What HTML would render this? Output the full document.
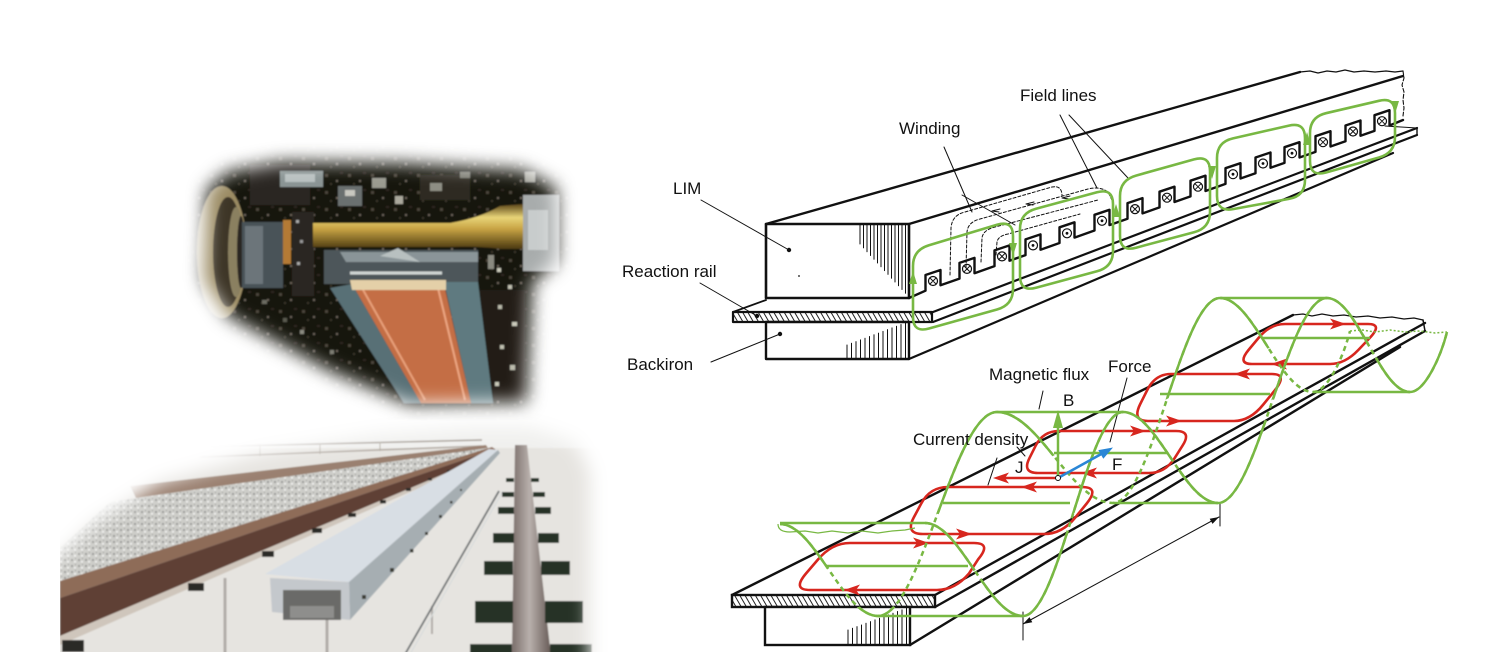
<!DOCTYPE html>
<html><head><meta charset="utf-8"><style>
html,body{margin:0;padding:0;background:#fff;}
body{width:1498px;height:668px;overflow:hidden;}
svg{display:block;}
text{font-family:"Liberation Sans",Arial,sans-serif;font-size:17px;fill:#111;}
</style></head><body>
<svg width="1498" height="668" viewBox="0 0 1498 668" xmlns="http://www.w3.org/2000/svg">
<defs>
<filter id="mb" x="-20%" y="-20%" width="140%" height="140%"><feGaussianBlur stdDeviation="9"/></filter>
<filter id="sb" x="-5%" y="-5%" width="110%" height="110%"><feGaussianBlur stdDeviation="0.8"/></filter>
<mask id="mTop" maskUnits="userSpaceOnUse" x="0" y="0" width="700" height="668">
<polygon points="207,190 228,172 282,162 400,163 522,170 556,188 556,262 532,282 526,402 410,404 332,372 228,316 204,280" fill="#fff" filter="url(#mb)"/>
</mask>
<mask id="mBot" maskUnits="userSpaceOnUse" x="0" y="0" width="700" height="668">
<polygon points="30,720 30,585 95,522 160,482 260,454 380,434 470,427 530,427 575,442 590,472 590,720" fill="#fff" filter="url(#mb)"/>
</mask>
<clipPath id="cBot"><rect x="60" y="400" width="560" height="252"/></clipPath>
<pattern id="hatch" width="4.5" height="10" patternUnits="userSpaceOnUse" patternTransform="rotate(-30)">
<rect width="4.5" height="10" fill="#fff"/><line x1="1" y1="0" x2="1" y2="10" stroke="#222" stroke-width="1"/>
</pattern>
<pattern id="bal" width="7" height="6" patternUnits="userSpaceOnUse">
<rect width="7" height="6" fill="#cdcdc9"/><rect x="1" y="1" width="2" height="2" fill="#9a9a96"/><rect x="4" y="3" width="2" height="1.5" fill="#f4f4f2"/><rect x="5" y="0" width="1" height="1" fill="#8a8a86"/>
</pattern>
<pattern id="spk" width="23" height="17" patternUnits="userSpaceOnUse">
<rect width="23" height="17" fill="#17120e"/><rect x="3" y="4" width="3" height="3" fill="#4a4238"/><rect x="14" y="10" width="2" height="2" fill="#6a6258"/><rect x="18" y="2" width="3" height="2" fill="#2e2820"/><rect x="8" y="13" width="2" height="2" fill="#3a342a"/>
</pattern>
<linearGradient id="brass" x1="0" y1="0" x2="0" y2="1">
<stop offset="0" stop-color="#5a4418"/><stop offset="0.3" stop-color="#e8d478"/><stop offset="0.55" stop-color="#c8a444"/><stop offset="1" stop-color="#4a3810"/>
</linearGradient>
<linearGradient id="rrail" x1="0" y1="0" x2="1" y2="0">
<stop offset="0" stop-color="#7a6e6a"/><stop offset="0.45" stop-color="#b8b0ac"/><stop offset="1" stop-color="#665a56"/>
</linearGradient>
<clipPath id="cL">
<polygon points="700,632.5 1500,232.5 1500,0 700,0"/>
<polygon points="700,607 935,607 1425,331 1500,289 1500,700 700,700"/>
</clipPath>
<clipPath id="cR">
<polygon points="700,728 1500,269 1500,0 700,0"/>
<polygon points="700,607 935,607 1425,331 1500,289 1500,700 700,700"/>
</clipPath>
</defs>

<!-- ============ TOP PHOTO ============ -->
<g mask="url(#mTop)">
<g filter="url(#sb)">
<rect x="180" y="140" width="400" height="280" fill="url(#spk)"/>
<rect x="250" y="165" width="60" height="40" fill="#2a2620"/>
<rect x="420" y="175" width="50" height="25" fill="#2e2a24"/>
<rect x="480" y="290" width="45" height="110" fill="#201c18"/>
<!-- wheel -->
<ellipse cx="222" cy="252" rx="25" ry="66" fill="#9a8a62"/>
<ellipse cx="228" cy="252" rx="15" ry="55" fill="#3e3528"/>
<ellipse cx="236" cy="252" rx="8" ry="45" fill="#8a8060"/>
<ellipse cx="241" cy="252" rx="4" ry="36" fill="#2a2620"/>
<!-- hub -->
<rect x="242" y="222" width="41" height="66" fill="#4a5258"/>
<rect x="245" y="226" width="18" height="58" fill="#6c747a"/>
<rect x="283" y="220" width="8" height="44" fill="#b47a34"/>
<rect x="292" y="212" width="22" height="84" fill="#2c2822"/>
<rect x="296" y="220" width="3" height="3" fill="#aaa"/><rect x="300" y="240" width="3" height="3" fill="#999"/><rect x="297" y="262" width="3" height="3" fill="#aaa"/>
<!-- brass tube -->
<path d="M313,223 L450,223 Q480,218 500,206 L524,204 L524,249 L500,249 Q480,246 450,247 L313,247 Z" fill="url(#brass)"/>
<!-- top boxes -->
<rect x="280" y="171" width="43" height="16" fill="#8a9494"/>
<rect x="285" y="174" width="30" height="8" fill="#b8c0c0"/>
<rect x="338" y="186" width="24" height="20" fill="#6a7070"/>
<rect x="345" y="190" width="10" height="6" fill="#c8c8c0"/>
<rect x="372" y="178" width="14" height="10" fill="#9a9a90"/>
<rect x="395" y="196" width="8" height="8" fill="#aaa89c"/>
<rect x="430" y="183" width="12" height="8" fill="#8e8e84"/>
<rect x="460" y="172" width="10" height="6" fill="#7a7a70"/>
<rect x="525" y="172" width="10" height="10" fill="#9a9a90"/>
<!-- LIM slab -->
<polygon points="324,250 478,250 478,284 324,284" fill="#4e565a"/>
<polygon points="340,252 478,252 478,262 346,262" fill="#8a9498"/>
<polygon points="380,256 398,248 420,262" fill="#b8c0c0"/>
<line x1="350" y1="273" x2="442" y2="273" stroke="#d0d6d4" stroke-width="3"/>
<!-- copper plate -->
<polygon points="330,288 352,284 421,403 404,403" fill="#587076"/>
<polygon points="444,282 478,282 493,403 471,403" fill="#5e7a80"/>
<polygon points="352,284 444,284 471,403 421,403" fill="#c46e44"/>
<line x1="362" y1="288" x2="425" y2="400" stroke="#e8a07a" stroke-width="2"/>
<line x1="438" y1="288" x2="465" y2="400" stroke="#eca682" stroke-width="2"/>
<polygon points="350,280 446,280 446,290 352,290" fill="#e4d0a8"/>
<!-- right side -->
<rect x="523" y="195" width="36" height="76" fill="#a8acac"/>
<rect x="528" y="210" width="20" height="40" fill="#c8cccc"/>
<rect x="497" y="268" width="4" height="4" fill="#c8c8b8"/><rect x="508" y="285" width="4" height="4" fill="#c0c0b0"/>
<rect x="498" y="305" width="4" height="4" fill="#b8b8a8"/><rect x="512" y="322" width="5" height="4" fill="#c8c8b8"/>
<rect x="500" y="345" width="4" height="4" fill="#c0c0b0"/><rect x="510" y="365" width="5" height="5" fill="#b8b8a8"/>
<rect x="495" y="382" width="4" height="4" fill="#c8c8b8"/><rect x="488" y="255" width="6" height="14" fill="#8a8a80"/>
<rect x="300" y="330" width="4" height="4" fill="#8a8a80"/><rect x="330" y="350" width="4" height="4" fill="#7a7a70"/>
<rect x="262" y="300" width="5" height="4" fill="#6a6a60"/><rect x="283" y="318" width="4" height="4" fill="#5a5a50"/>
</g>
</g>

<!-- ============ BOTTOM PHOTO ============ -->
<g clip-path="url(#cBot)">
<g mask="url(#mBot)">
<g filter="url(#sb)">
<rect x="40" y="400" width="580" height="270" fill="#e6e4e0"/>
<rect x="40" y="400" width="580" height="48" fill="#f0f0ee"/>
<line x1="190" y1="447" x2="482" y2="440" stroke="#a09890" stroke-width="1.5"/>
<line x1="200" y1="457" x2="482" y2="446" stroke="#b0a8a0" stroke-width="1.5"/>
<line x1="260" y1="444" x2="260" y2="456" stroke="#b0aaa0" stroke-width="1"/>
<line x1="320" y1="443" x2="320" y2="454" stroke="#b0aaa0" stroke-width="1"/>
<line x1="380" y1="442" x2="380" y2="451" stroke="#b0aaa0" stroke-width="1"/>
<polygon points="130,486 486,445 488,448 136,498" fill="#9a8070"/>
<polygon points="110,502 487,448 492,450 60,586 60,548" fill="url(#bal)"/>
<!-- brown rail -->
<polygon points="60,581 492,447 495,449 60,598" fill="#8e6c58"/>
<polygon points="60,598 495,449 496,452 60,636" fill="#5e4034"/>
<polygon points="60,636 496,452 497,454 60,645" fill="#cfc6bc"/>
<rect x="62" y="640" width="22" height="12" fill="#2a2a26"/>
<rect x="188" y="583" width="16" height="8" fill="#2a2c28"/>
<rect x="262" y="551" width="12" height="6" fill="#2a2c28"/>
<rect x="312" y="528" width="10" height="5" fill="#2a2c28"/>
<rect x="348" y="513" width="8" height="4" fill="#2a2c28"/>
<rect x="380" y="500" width="6" height="3.5" fill="#2a2c28"/>
<rect x="406" y="488" width="5" height="3" fill="#2a2c28"/>
<rect x="428" y="478" width="4" height="2.5" fill="#2a2c28"/>
<rect x="447" y="470" width="3" height="2" fill="#2a2c28"/>
<!-- posts -->
<line x1="225" y1="578" x2="225" y2="655" stroke="#b0aca8" stroke-width="3"/>
<line x1="327" y1="620" x2="327" y2="655" stroke="#b0aca8" stroke-width="3"/>
<line x1="432" y1="606" x2="432" y2="634" stroke="#b0aca8" stroke-width="2"/>
<!-- reaction rail -->
<polygon points="265,574 349,582 498,450 489,449" fill="#d8dee4"/>
<polygon points="349,582 498,450 500,453 350,620" fill="#a6aeb2"/>
<polygon points="270,578 349,582 350,620 272,612" fill="#c4c8cc"/>
<rect x="283" y="590" width="58" height="30" fill="#6a6a68"/>
<rect x="290" y="606" width="44" height="12" fill="#8e8e8c"/>
<rect x="362" y="595" width="4" height="4" fill="#3a3a30"/>
<rect x="390" y="568" width="4" height="4" fill="#3a3a30"/>
<rect x="410" y="549" width="3.5" height="3.5" fill="#3a3a30"/>
<rect x="425" y="532" width="3" height="3" fill="#3a3a30"/>
<rect x="439" y="515" width="3" height="3" fill="#3a3a30"/>
<rect x="450" y="501" width="2.5" height="2.5" fill="#3a3a30"/>
<rect x="460" y="489" width="2" height="2" fill="#3a3a30"/>
<!-- cable -->
<line x1="499" y1="491" x2="404" y2="656" stroke="#6a6e70" stroke-width="1.8"/>
<line x1="503" y1="491" x2="409" y2="656" stroke="#d8dcdc" stroke-width="1.2"/>
<!-- right rail -->
<polygon points="515,445 527,445 551,656 512,656" fill="url(#rrail)"/>
<g fill="#283028">
<rect x="506" y="478" width="8" height="4"/><rect x="531" y="478" width="8" height="4"/>
<rect x="502" y="492" width="12" height="5"/><rect x="533" y="492" width="12" height="5"/>
<rect x="498" y="507" width="16" height="7"/><rect x="535" y="507" width="16" height="7"/>
<rect x="493" y="533" width="21" height="10"/><rect x="538" y="533" width="21" height="10"/>
<rect x="484" y="561" width="29" height="14"/><rect x="541" y="561" width="29" height="14"/>
<rect x="475" y="601" width="38" height="22"/><rect x="545" y="601" width="38" height="22"/>
<rect x="470" y="644" width="42" height="14"/><rect x="550" y="644" width="42" height="14"/>
</g>
</g>
</g>
</g>

<!-- ============ UPPER LIM DIAGRAM ============ -->
<g fill="none" stroke="#111" stroke-linecap="round" stroke-linejoin="round">
<line x1="766" y1="224" x2="1300" y2="72" stroke-width="2.4"/>
<polyline points="1300,72 1310,71 1318,73 1327,71 1336,72 1345,70 1354,72 1364,71 1375,72 1386,71 1395,72 1403,71" stroke-width="1.2"/>
<polyline points="1403,71 1404,78 1402,85 1404,92 1403,100 1404,108 1403,116" stroke-width="1.1" stroke-dasharray="4 2"/>
<line x1="909" y1="224" x2="1403" y2="76" stroke-width="2.4"/>
<rect x="766" y="224" width="143" height="74" stroke-width="2.6" fill="#fff"/>
<path d="M860,224V244 M863.5,224V247.9 M867,224V251.7 M870.5,224V255.5 M874,224V259.3 M877.5,224V263 M881,224V266.8 M884.5,224V270.6 M888,224V274.4 M891.5,224V278.2 M895,224V282 M898.5,224V285.8 M902,224V289.5 M905.5,224V293.3" stroke-width="1"/>
<!-- slots -->
<path d="M909,298 L925.5,290.7 L925.5,275 L940.5,270 L940.5,285.3 L959.5,278.6 L959.5,262.9 L974.5,257.9 L974.5,273.2 L994.5,266.1 L994.5,250.4 L1009.5,245.4 L1009.5,260.7 L1025.5,255.1 L1025.5,239.4 L1040.5,234.4 L1040.5,249.7 L1059.5,243 L1059.5,227.3 L1074.5,222.3 L1074.5,237.6 L1094.5,230.5 L1094.5,214.8 L1109.5,209.8 L1109.5,225.1 L1127.5,218.8 L1127.5,203.1 L1142.5,198.1 L1142.5,213.4 L1159.5,207.4 L1159.5,191.7 L1174.5,186.7 L1174.5,202 L1190.5,196.4 L1190.5,180.7 L1205.5,175.7 L1205.5,191 L1225.5,183.9 L1225.5,168.2 L1240.5,163.2 L1240.5,178.5 L1255.5,173.2 L1255.5,157.5 L1270.5,152.5 L1270.5,167.8 L1284.5,162.9 L1284.5,147.2 L1299.5,142.2 L1299.5,157.5 L1315.5,151.9 L1315.5,136.2 L1330.5,131.2 L1330.5,146.5 L1345.5,141.2 L1345.5,125.5 L1360.5,120.5 L1360.5,135.8 L1374.5,130.9 L1374.5,115.2 L1389.5,110.2 L1389.5,125.5 L1403,120" stroke-width="2.4"/>
<g stroke-width="1.2" fill="#fff">
<circle cx="933" cy="281" r="4.5"/><circle cx="967" cy="268.9" r="4.5"/><circle cx="1002" cy="256.4" r="4.5"/>
<circle cx="1033" cy="245.4" r="4.5"/><circle cx="1067" cy="233.3" r="4.5"/><circle cx="1102" cy="220.8" r="4.5"/>
<circle cx="1135" cy="209.1" r="4.5"/><circle cx="1167" cy="197.7" r="4.5"/><circle cx="1198" cy="186.7" r="4.5"/>
<circle cx="1233" cy="174.2" r="4.5"/><circle cx="1263" cy="163.5" r="4.5"/><circle cx="1292" cy="153.2" r="4.5"/>
<circle cx="1323" cy="142.2" r="4.5"/><circle cx="1353" cy="131.5" r="4.5"/><circle cx="1382" cy="121.2" r="4.5"/>
</g>
<path d="M930.5,278.5l5,5m0,-5l-5,5 M964.5,266.4l5,5m0,-5l-5,5 M999.5,253.9l5,5m0,-5l-5,5 M1132.5,206.6l5,5m0,-5l-5,5 M1164.5,195.2l5,5m0,-5l-5,5 M1195.5,184.2l5,5m0,-5l-5,5 M1320.5,139.7l5,5m0,-5l-5,5 M1350.5,129l5,5m0,-5l-5,5 M1379.5,118.7l5,5m0,-5l-5,5" stroke-width="1"/>
<g fill="#111" stroke="none">
<circle cx="1033" cy="245.4" r="1.4"/><circle cx="1067" cy="233.3" r="1.4"/><circle cx="1102" cy="220.8" r="1.4"/>
<circle cx="1233" cy="174.2" r="1.4"/><circle cx="1263" cy="163.5" r="1.4"/><circle cx="1292" cy="153.2" r="1.4"/>
</g>
<!-- reaction rail -->
<line x1="733" y1="312" x2="766" y2="300" stroke-width="1.8"/>
<line x1="933" y1="312" x2="1417" y2="128" stroke-width="2.2"/>
<line x1="933" y1="322" x2="1417" y2="135" stroke-width="2.2"/>
<line x1="1417" y1="128" x2="1417" y2="135" stroke-width="1.4"/>
<line x1="1385" y1="126" x2="1417" y2="128" stroke-width="1"/>
<rect x="733" y="312" width="199" height="10" fill="url(#hatch)" stroke-width="2.2"/>
<!-- backiron -->
<rect x="766" y="322" width="143" height="37" stroke-width="2.4" fill="#fff"/>
<line x1="909" y1="359" x2="1393" y2="153" stroke-width="2.2"/>
<path d="M847,345V358 M851.5,343.3V358 M856,341.6V358 M860.5,339.9V358 M865,338.2V358 M869.5,336.5V358 M874,334.8V358 M878.5,333.1V358 M883,331.4V358 M887.5,329.6V358 M892,327.9V358 M896.5,326.2V358 M901,324.5V358 M905.5,322.8V358" stroke-width="1"/>
<!-- dashed winding -->
<g stroke-width="1" stroke-dasharray="3 2">
<path d="M950,275 L951,228 Q952,215 965,212 L1052,187 Q1062,185 1062,196"/>
<path d="M966,268 L967,232 Q968,222 980,219 L1088,189 Q1100,186 1108,192 L1112,200"/>
<path d="M981,262 L982,238 Q983,230 995,227 L1098,200"/>
<path d="M996,255 L997,242 Q998,236 1008,234 L1080,214"/>
</g>
<path d="M1000,209 l-8,2 l7,1 M1034,202 l-8,2 l7,1 M1070,196 l-8,2 l7,1" stroke-width="1"/>
<!-- leaders -->
<line x1="701" y1="200" x2="789" y2="250" stroke-width="1"/>
<line x1="700" y1="283" x2="757" y2="316" stroke-width="1"/>
<line x1="711" y1="362" x2="780" y2="334" stroke-width="1"/>
<line x1="944" y1="147" x2="972" y2="212" stroke-width="1"/>
<line x1="962" y1="195" x2="1015" y2="225" stroke-width="1"/>
<line x1="1060" y1="115" x2="1097" y2="188" stroke-width="1"/>
<line x1="1069" y1="115" x2="1128" y2="178" stroke-width="1"/>
</g>
<g fill="#111">
<circle cx="789" cy="250" r="2.2"/><circle cx="757" cy="316" r="2.2"/><circle cx="780" cy="334" r="2.2"/><circle cx="799" cy="276" r="0.9"/>
</g>
<!-- green loops upper -->
<g fill="none" stroke="#78b843" stroke-width="2.6">
<path d="M913,317 L913,266 Q913,250 929,245.2 L997,224.8 Q1013,220 1013,236 L1013,289 Q1013,305 997,309.5 L929,328.5 Q913,333 913,317 Z"/>
<path d="M1020,276 L1020,229 Q1020,213 1036,208.7 L1097,192.3 Q1113,188 1113,204 L1113,251 Q1113,267 1097,271.3 L1036,287.7 Q1020,292 1020,276 Z"/>
<path d="M1120,236 L1120,196 Q1120,180 1136,175.6 L1194,159.4 Q1210,155 1210,171 L1210,212 Q1210,228 1194,232.3 L1136,247.7 Q1120,252 1120,236 Z"/>
<path d="M1217,196 L1217,158 Q1217,142 1233,138.4 L1289,125.6 Q1305,122 1305,138 L1305,180 Q1305,196 1289,198.9 L1233,209.1 Q1217,212 1217,196 Z"/>
<path d="M1310,161 L1310,133 Q1310,117 1326,113.2 L1379,100.8 Q1395,97 1395,113 L1395,137 Q1395,153 1379,157.5 L1326,172.5 Q1310,177 1310,161 Z"/>
</g>
<g fill="#78b843">
<polygon points="913,271 909,284 917,284"/>
<polygon points="1013,256 1009,243 1017,243"/>
<polygon points="1116,204 1112,217 1120,217"/>
<polygon points="1212,179 1208,166 1216,166"/>
<polygon points="1307,132 1303,145 1311,145"/>
<polygon points="1395,114 1391,101 1399,101"/>
</g>

<!-- ============ LOWER DIAGRAM ============ -->
<g fill="none" stroke="#111" stroke-linecap="round">
<line x1="732" y1="595" x2="1293" y2="315" stroke-width="2.4"/>
<polyline points="1293,315 1303,314 1312,316 1322,314 1333,316 1344,315 1356,317 1368,316 1380,318 1392,317 1404,319 1414,318 1423,320" stroke-width="1.2"/>
<line x1="935" y1="595" x2="1425" y2="323" stroke-width="2.4"/>
<line x1="935" y1="607" x2="1425" y2="331" stroke-width="2.4"/>
<line x1="1423" y1="320" x2="1425" y2="331" stroke-width="1.5"/>
<line x1="910" y1="645" x2="1400" y2="347" stroke-width="2.4"/>
<rect x="732" y="595" width="203" height="12" fill="url(#hatch)" stroke-width="2.4"/>
<rect x="765" y="607" width="145" height="38" fill="#fff" stroke-width="2.4"/>
<path d="M848,630V644 M852.5,628.3V644 M857,626.6V644 M861.5,625V644 M866,623.3V644 M870.5,621.6V644 M875,619.9V644 M879.5,618.3V644 M884,616.6V644 M888.5,614.9V644 M893,613.2V644 M897.5,611.5V644 M902,609.9V644 M906.5,608.2V644" stroke-width="1"/>
<!-- dimension -->
<line x1="1023" y1="624" x2="1219" y2="517" stroke-width="1"/>
<line x1="1023" y1="612" x2="1023" y2="640" stroke-width="1"/>
<line x1="1220" y1="503" x2="1220" y2="526" stroke-width="1"/>
<!-- leaders -->
<line x1="1043" y1="391" x2="1039" y2="409" stroke-width="1"/>
<line x1="1127" y1="378" x2="1110" y2="442" stroke-width="1"/>
<line x1="1017" y1="447" x2="1025" y2="456" stroke-width="1"/>
<line x1="997" y1="458" x2="988" y2="485" stroke-width="1"/>
</g>
<g fill="#111">
<polygon points="1219,517 1212.5,523.9 1209.7,518.7"/>
<polygon points="1023,624 1032.3,622.3 1029.5,617.1"/>
</g>
<!-- red eddy loops -->
<g fill="none" stroke="#d7261e" stroke-width="2.6">
<path d="M850,543 L974,543 Q992,543 978,559.5 L969,573.5 Q955,590 937,590 L810,590 Q792,590 806,573.5 L818,559.5 Q832,543 850,543 Z"/>
<path d="M948,487 L1082,487 Q1100,487 1086.7,503.5 L1075.3,517.5 Q1062,534 1044,534 L923,534 Q905,534 913.75,517.5 L921.25,503.5 Q930,487 948,487 Z"/>
<path d="M1059,431 L1176,431 Q1192,431 1182.5,445.7 L1174.5,458.3 Q1165,473 1149,473 L1038,473 Q1022,473 1029.35,458.3 L1035.65,445.7 Q1043,431 1059,431 Z"/>
<path d="M1171,374 L1272,374 Q1288,374 1274.7,390.5 L1263.3,404.5 Q1250,421 1234,421 L1148,421 Q1132,421 1140,404.5 L1147,390.5 Q1155,374 1171,374 Z"/>
<path d="M1285,324 L1368,324 Q1383,324 1369.7,338 L1358.3,350 Q1345,364 1330,364 L1252,364 Q1237,364 1248.5,350 L1258.5,338 Q1270,324 1285,324 Z"/>
<line x1="1056" y1="478" x2="1002" y2="478"/>
</g>
<g fill="#d7261e">
<polygon points="929,543 913,537.5 917,543 913,548.5"/>
<polygon points="844,590 860,584.5 856,590 860,595.5"/>
<polygon points="1021,487 1037,481.5 1033,487 1037,492.5"/>
<polygon points="972,534 956,528.5 960,534 956,539.5"/>
<polygon points="1146,431 1130,425.5 1134,431 1130,436.5"/>
<polygon points="1081,473 1097,467.5 1093,473 1097,478.5"/>
<polygon points="1234,374 1250,368.5 1246,374 1250,379.5"/>
<polygon points="1182,421 1166,415.5 1170,421 1166,426.5"/>
<polygon points="1346,324 1330,318.5 1334,324 1330,329.5"/>
<polygon points="1271,364 1287,358.5 1283,364 1287,369.5"/>
<polygon points="993,478 1009,472.5 1005,478 1009,483.5"/>
</g>
<!-- green flux wave -->
<g fill="none" stroke="#78b843" stroke-width="2.5">
<path d="M780,524 C815,524 843,616 878,616 C921,616 954,412 997,412 C1039,412 1071,503 1113,503 C1151.5,503 1181.5,298 1220,298 C1253.5,298 1279.5,392 1313,392 C1328,392 1344,355 1350,331" stroke-dasharray="5 4"/>
<path d="M925,523 C960,523 988,616 1023,616 C1059,616 1087,412 1123,412 C1157,412 1184,503 1218,503 C1257,503 1288,298 1327,298 C1357,298 1380,392 1410,392 C1425,392 1441,356 1447,332" stroke-dasharray="5 4"/>
<path d="M780,524 C815,524 843,616 878,616 C921,616 954,412 997,412 C1039,412 1071,503 1113,503 C1151.5,503 1181.5,298 1220,298 C1253.5,298 1279.5,392 1313,392 C1328,392 1344,355 1350,331" clip-path="url(#cL)"/>
<path d="M925,523 C960,523 988,616 1023,616 C1059,616 1087,412 1123,412 C1157,412 1184,503 1218,503 C1257,503 1288,298 1327,298 C1357,298 1380,392 1410,392 C1425,392 1441,356 1447,332" clip-path="url(#cR)"/>
<line x1="780" y1="523" x2="925" y2="523"/>
<line x1="878" y1="616" x2="1023" y2="616"/>
<line x1="997" y1="412" x2="1123" y2="412"/>
<line x1="1113" y1="503" x2="1218" y2="503"/>
<line x1="1220" y1="298" x2="1327" y2="298"/>
<line x1="1313" y1="392" x2="1410" y2="392"/>
<line x1="827" y1="566" x2="968" y2="566"/>
<line x1="943" y1="503" x2="1070" y2="503"/>
<line x1="1054" y1="453" x2="1168" y2="453"/>
<line x1="1160" y1="394" x2="1270" y2="394"/>
<line x1="1262" y1="338" x2="1370" y2="338"/>
<path d="M778,524 Q778,532 790,532 L805,531 L818,533 L832,531 L848,533 L862,531 L878,533 L892,531 L905,530 L915,528" stroke-width="1.2"/>
<path d="M1350,331 L1362,330 L1375,332 L1390,330 L1405,332 L1420,331 L1435,333 L1447,332" stroke-width="1.5" stroke-dasharray="2 2"/>
<line x1="1058" y1="478" x2="1058" y2="426"/>
</g>
<polygon points="1058,410 1053,428 1063,428" fill="#78b843"/>
<line x1="1058" y1="478" x2="1104" y2="452.5" stroke="#2a86d6" stroke-width="2.6"/>
<polygon points="1113,447.5 1103.3,458.8 1098.3,450.1" fill="#2a86d6"/>
<circle cx="1058" cy="478" r="2.5" fill="#fff" stroke="#111" stroke-width="1"/>

<!-- labels -->
<text x="1020" y="101">Field lines</text>
<text x="899" y="134">Winding</text>
<text x="673" y="194">LIM</text>
<text x="622" y="277">Reaction rail</text>
<text x="627" y="370">Backiron</text>
<text x="989" y="380">Magnetic flux</text>
<text x="1108" y="372">Force</text>
<text x="1063" y="406">B</text>
<text x="913" y="445">Current density</text>
<text x="1015" y="473">J</text>
<text x="1112" y="470">F</text>
</svg>
</body></html>
